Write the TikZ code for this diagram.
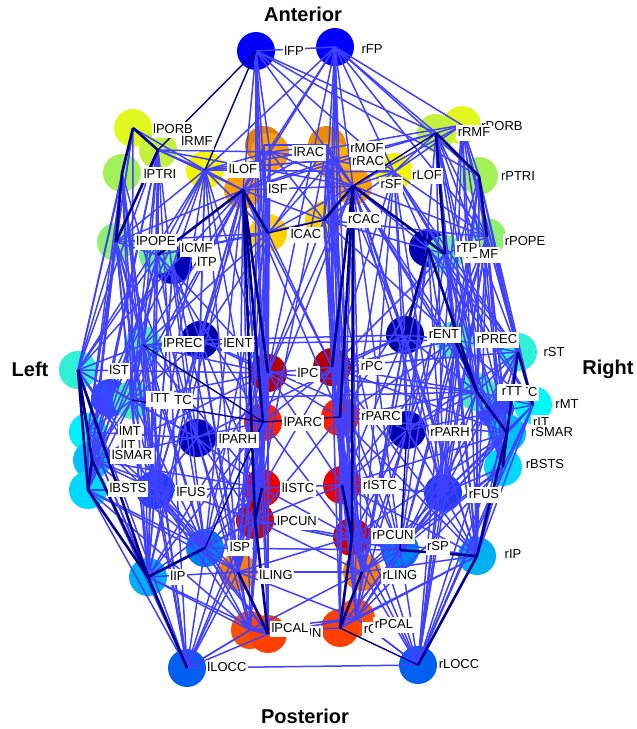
\documentclass[tikz,border=0pt]{standalone}
\usepackage{fontspec}
\setmainfont{Liberation Sans}
\definecolor{eb}{HTML}{4040FF}
\definecolor{en}{HTML}{00008C}
\newcommand\myreg[4]{\definecolor{c#1}{HTML}{#4}\node[rc,fill=c#1] (#1) at (#2,#3) {};}
\newcommand\mylab[3]{\node[lb] (L#1) at (#2,#3) {#1};}
\newcommand\myconn[2]{\foreach \tg in {#2}{\draw[edgeb] (#1.center) -- (\tg.center);}}
\newcommand\mystrong[2]{\foreach \tg in {#2}{\draw[edgen] (#1.center) -- (\tg.center);}}
\newcommand\mythin[2]{\foreach \tg in {#2}{\draw[edget] (#1.center) -- (\tg.center);}}
\begin{document}
\begin{tikzpicture}[x=1pt,y=-1pt,
 rc/.style={circle,minimum size=38pt,inner sep=0pt,draw=none},
 lb/.style={fill=white,inner sep=1.6pt,font=\fontsize{13}{14}\selectfont,text height=9.5pt,text depth=2.5pt},
 edgeb/.style={draw=eb,line width=1.5pt},
 edgen/.style={draw=en,line width=2.6pt},
 edget/.style={draw=en,line width=1.4pt},
 ttl/.style={font=\bfseries\fontsize{20}{22}\selectfont}]
\useasboundingbox (0,0) rectangle (637,729);
% ---------------- regions (circles) ----------------
\myreg{lFP}{256}{51}{0000FF}
\myreg{rFP}{335}{47}{0000FF}
\myreg{lPORB}{133}{128}{E0F820}
\myreg{lRMF}{158}{150}{C4F040}
\myreg{lPTRI}{122}{173}{A4F058}
\myreg{rPORB}{462}{125}{E0F820}
\myreg{rRMF}{436}{133}{C4F040}
\myreg{rPTRI}{479}{176}{A4F058}
\myreg{lLOF}{205}{170}{F5F500}
\myreg{rLOF}{394}{172}{F5F500}
\myreg{lMOF}{264}{145}{E88000}
\myreg{lRAC}{270}{152}{FFA000}
\myreg{rMOF}{327}{145}{F08C00}
\myreg{rRAC}{332}{160}{FFB000}
\myreg{lSF}{243}{190}{FFA000}
\myreg{rSF}{353}{186}{FFA000}
\myreg{lCAC}{268}{233}{FFD200}
\myreg{rCAC}{324}{220}{FFD200}
\myreg{lPOPE}{116}{242}{90F070}
\myreg{rPOPE}{487}{237}{90F070}
\myreg{lTP}{173}{265}{0000B4}
\myreg{rTP}{428}{248}{0000B4}
\myreg{lCMF}{158}{255}{70F090}
\myreg{rCMF}{445}{254}{70F090}
\myreg{lPREC}{143}{345}{50F0A8}
\myreg{rPREC}{455}{340}{50F0A8}
\myreg{lENT}{200}{340}{0000A0}
\myreg{rENT}{405}{335}{0000A0}
\myreg{lST}{78}{370}{30F0D8}
\myreg{rST}{518}{352}{30F0D8}
\myreg{lPSTC}{110}{398}{2850FF}
\myreg{rPSTC}{495}{408}{2850FF}
\myreg{lTTC}{132}{400}{40F0B4}
\myreg{rTTC}{477}{392}{40F0B4}
\myreg{lMT}{88}{432}{00F0FA}
\myreg{rMT}{533}{405}{00F8FA}
\myreg{lSMAR}{92}{460}{00C0FF}
\myreg{rSMAR}{507}{433}{00C0FF}
\myreg{lBSTS}{88}{490}{00D8FF}
\myreg{rBSTS}{503}{467}{00D8FF}
\myreg{lFUS}{155}{490}{1E3CFF}
\myreg{rFUS}{443}{493}{1E3CEE}
\myreg{lPARH}{197}{438}{0000B0}
\myreg{rPARH}{407}{430}{0000B0}
\myreg{lPC}{268}{373}{B40000}
\myreg{rPC}{332}{367}{B40000}
\myreg{lPARC}{263}{422}{FF2000}
\myreg{rPARC}{340}{417}{FF2000}
\myreg{lISTC}{262}{488}{F00000}
\myreg{rISTC}{342}{485}{F00000}
\myreg{lPCUN}{255}{520}{D00000}
\myreg{rPCUN}{352}{537}{D00000}
\myreg{lSP}{205}{548}{0080F0}
\myreg{rSP}{400}{550}{0080F0}
\myreg{lIP}{148}{577}{00B0F0}
\myreg{rIP}{477}{556}{00B0F0}
\myreg{lLING}{238}{572}{FF8000}
\myreg{rLING}{362}{572}{FF8000}
\myreg{lPCAL}{250}{630}{FF5000}
\myreg{lCUN}{268}{634}{FF4000}
\myreg{rPCAL}{356}{618}{FF5000}
\myreg{rCUN}{340}{628}{FF4000}
\myreg{lLOCC}{187}{668}{0060F0}
\myreg{rLOCC}{418}{665}{0060F0}
% ---------------- connections ----------------
\myconn{lFP}{rFP,lSF,lPC,lPARC,lPCUN,lISTC,rSF,rLOF,rRMF,lCAC,rPTRI,lRAC}
\myconn{rFP}{rPORB,rRMF,rSF,rLOF,rPTRI,rPC,rPARC,rPCUN,rISTC,lSF,lRAC,lLOF,rPOPE,rCAC,rRAC,lPC}
\myconn{lPORB}{lPOPE,lST,lMT,lLOF,lTTC}
\myconn{rPORB}{rRMF,rPTRI,rPOPE,rST,rMT,rSMAR,rPREC,rTTC,rIP,rLOCC,rLOF,rSF,lLOF}
\myconn{lRMF}{lLOF,lSF,lRAC,lCMF,lPREC,lSMAR,lIP,lBSTS,lFUS,lSP,rSF,lTTC,lST,lLOCC}
\myconn{rRMF}{rPOPE,rLOF,rRAC,rPREC,rSMAR,rIP,rBSTS,rFUS,rSP,lSF,rTTC,rST}
\myconn{lPTRI}{lST,lMT,lBSTS,lSMAR,lIP,lTTC,lPREC,lLOCC,lFUS,lPARH}
\myconn{rPTRI}{rST,rMT,rBSTS,rSMAR,rIP,rTTC,rPREC,rLOCC,rFUS,rPARH}
\myconn{lLOF}{lSF,lRAC,lCAC,lTP,lENT,lPARH,lFUS,lST,lMT,lPOPE,lCMF,rLOF,rRAC,lPC,lLING,lISTC}
\myconn{rLOF}{rSF,rRAC,rCAC,rTP,rENT,rPARH,rFUS,rST,rMT,rPOPE,rCMF,rPC,rLING,rISTC}
\myconn{lRAC}{lSF,lCAC,rRAC,rSF,lPC,lISTC,lPCUN,rMOF,lLING,rCAC,lPARC}
\myconn{rRAC}{rSF,rCAC,lSF,rPC,rISTC,rPCUN,rMOF,rLING,lCAC,rPARC,lLOF}
\myconn{rMOF}{rSF,lSF,rCAC,rPC,rISTC,rLING,lPCUN,rENT,lENT,lMOF}
\myconn{lMOF}{lSF,lCAC,lPC,lISTC,lENT,lLING}
\myconn{lSF}{rSF,lISTC,lPREC,lSP,lIP,lSMAR,lTTC,rPC,rPARC,lPOPE,lLING,lPCAL,lFUS,rCAC,lENT,lTP}
\myconn{rSF}{rISTC,rPREC,rSP,rIP,rSMAR,rTTC,lPC,lPARC,rPOPE,rLING,rPCAL,rFUS,lCAC,rENT,rTP}
\myconn{lCAC}{lPC,lISTC,lPCUN,lPARC,lPREC,lCMF,lSP,lLING,rPC,lPOPE}
\myconn{rCAC}{rPC,rISTC,rPCUN,rPARC,rPREC,rCMF,rSP,rLING,lPC,rPOPE,lCMF}
\myconn{lPOPE}{lCMF,lPREC,lST,lTTC,lSMAR,lMT,lIP,lBSTS,lSP,lPARH,lFUS,lLOCC}
\myconn{rPOPE}{rCMF,rPREC,rST,rTTC,rSMAR,rMT,rIP,rBSTS,rSP,rPARH,rFUS,rLOCC}
\myconn{lCMF}{lPREC,lTTC,lSMAR,lSP,lIP,lPARC,lPC,lST,lBSTS}
\myconn{rCMF}{rPREC,rTTC,rSMAR,rSP,rIP,rPARC,rPC,rST,rBSTS}
\myconn{lTP}{lENT,lPARH,lFUS,lST,lMT,lLING,lIP}
\myconn{rTP}{rPARH,rFUS,rST,rMT,rLING,rIP}
\myconn{lPREC}{lST,lTTC,lSMAR,lPC,lSP,lIP,lMT,lBSTS,lENT,rPREC,lFUS,lLOCC,lISTC}
\myconn{rPREC}{rST,rSMAR,rPC,rPARC,rSP,rIP,rMT,rBSTS,rENT,rFUS,rLOCC,rISTC}
\myconn{lENT}{lPARH,lFUS,lLING,lPCAL,lIP,rENT,lTTC,lPC,lISTC,rPARH}
\myconn{rENT}{rPARH,rFUS,rLING,rPCAL,rIP,rTTC,rPC,rISTC,lPARH}
\myconn{lST}{lTTC,lSP,lFUS,lLOCC,lPARH,lPC}
\myconn{rST}{rTTC,rBSTS,rIP,rSP,rFUS,rLOCC,rPARH,rPC}
\myconn{lTTC}{lSMAR,lMT,lBSTS,lPC,lIP,lSP,lFUS,rTTC,lPARH}
\myconn{rTTC}{rMT,rBSTS,rPARC,rPC,rIP,rSP,rFUS,rPARH,lPC}
\myconn{lMT}{lBSTS,lIP,lFUS,lLOCC,lSP,lPARH}
\myconn{rMT}{rSMAR,rBSTS,rIP,rFUS,rLOCC,rSP,rPARH}
\myconn{lSMAR}{lSP,lFUS,lLOCC,lPARC,lPC,lPCUN,lISTC}
\myconn{rSMAR}{rSP,rFUS,rLOCC,rPARC,rPC,rPCUN,rISTC}
\myconn{lBSTS}{lFUS,lLOCC,lSP,lLING,lPCAL}
\myconn{rBSTS}{rIP,rFUS,rLOCC,rSP,rLING,rPCAL}
\myconn{lFUS}{lPARH,lLING,lLOCC,lIP,lSP,lPCAL,lCUN,lISTC}
\myconn{rFUS}{rPARH,rLING,rLOCC,rIP,rSP,rPCAL,rCUN,rISTC}
\myconn{lPARH}{lLING,lISTC,lPCUN,lPCAL}
\myconn{rPARH}{rLING,rISTC,rPCUN,rPCAL}
\myconn{lPC}{rPC,lPARC,lISTC,lPCUN,lSP,lIP,lLING,lPCAL,rPARC,lCUN,rISTC}
\myconn{rPC}{rPARC,rISTC,rPCUN,rSP,rIP,rLING,rPCAL,lPARC,rCUN,lISTC}
\myconn{lPARC}{lISTC,lPCUN,lIP,lLING,lCUN,lPCAL,rPCUN,lLOCC}
\myconn{rPARC}{rISTC,rPCUN,rSP,rIP,rLING,rCUN,rPCAL,lPCUN,rLOCC}
\myconn{lISTC}{rISTC,lLING,lPCAL,lCUN,lSP,lIP,lLOCC,rPCUN}
\myconn{rISTC}{rLING,rPCAL,rCUN,rSP,rIP,rLOCC,lPCUN}
\myconn{lPCUN}{rPCUN,lSP,lIP,lLING,lPCAL,lLOCC,rLING,rSP}
\myconn{rPCUN}{rSP,rIP,rLING,rPCAL,rLOCC,lLING}
\myconn{lSP}{lLOCC,lLING,lPCAL,lCUN,rSP}
\myconn{rSP}{rLOCC,rLING,rPCAL,rCUN,lPCUN}
\myconn{lIP}{lLING,lPCAL,lCUN}
\myconn{rIP}{rLING,rPCAL,rCUN}
\myconn{lLING}{lPCAL,lLOCC,rLING,rPCAL}
\myconn{rLING}{rPCAL,rLOCC,lPCAL}
\myconn{lPCAL}{lCUN,lLOCC,rPCAL,rCUN}
\myconn{rPCAL}{rCUN,rLOCC,lCUN}
\myconn{lLOCC}{rLOCC,lCUN,lPCAL}
\myconn{rLOCC}{rPCAL}
% strong connections
\mythin{lFP}{lRMF,lLOF}
\mythin{rPARH}{rSP}
\mythin{lPREC}{lPARC}
\mythin{lPARC}{rPARC,lSP}
\mythin{lTTC}{lPARC}
\mystrong{lPORB}{lPTRI,lRMF}
\mystrong{lRMF}{lPOPE}
\mystrong{lPTRI}{lPOPE}
\mystrong{rRMF}{rPTRI,rCMF}
\mythin{rRMF}{rSF}
\mystrong{rPTRI}{rPOPE}
\mystrong{lSF}{lCMF,lPC,lPARC,lPCUN,lCAC}
\mystrong{rSF}{rCMF,rPC,rPARC,rPCUN,rCAC}
\mythin{lCAC}{rCAC}
\mystrong{rTP}{rENT,rTTC}
\mystrong{lST}{lMT,lSMAR,lBSTS,lIP}
\mystrong{rST}{rMT,rSMAR}
\mystrong{rPREC}{rTTC}
\mystrong{rTTC}{rSMAR}
\mystrong{lSMAR}{lBSTS,lIP}
\mystrong{rSMAR}{rBSTS,rIP}
\mystrong{lBSTS}{lIP}
\mystrong{lISTC}{lPCUN}
\mystrong{rISTC}{rPCUN}
\mystrong{lSP}{lIP}
\mystrong{rSP}{rIP}
\mystrong{lIP}{lLOCC}
\mystrong{rIP}{rLOCC}
\mystrong{lLING}{lCUN}
\mystrong{lPCUN}{lCUN}
\mystrong{rLING}{rCUN}
\mystrong{rPCUN}{rCUN}
\mythin{rLOCC}{rCUN}
% ---------------- labels ----------------
\mylab{lFP}{294}{52}
\mylab{rFP}{372}{50}
\mylab{lPORB}{173}{130}
\mylab{lRMF}{197}{142}
\mylab{lPTRI}{160}{175}
\mylab{lLOF}{243}{170}
\mylab{lSF}{278}{190}
\mylab{lRAC}{309}{153}
\mylab{rMOF}{367}{149}
\mylab{rRAC}{368}{162}
\mylab{rSF}{391}{185}
\mylab{rLOF}{427}{176}
\mylab{rPORB}{502}{127}
\mylab{rRMF}{474}{133}
\mylab{rPTRI}{518}{177}
\mylab{lCAC}{306}{235}
\mylab{rCAC}{364}{220}
\mylab{lPOPE}{156}{242}
\mylab{lCMF}{197}{249}
\mylab{lTP}{207}{263}
\mylab{rPOPE}{525}{242}
\mylab{rCMF}{482}{255}
\mylab{rTP}{467}{249}
\mylab{lPREC}{183}{344}
\mylab{lENT}{238}{344}
\mylab{rENT}{444}{335}
\mylab{rPREC}{497}{340}
\mylab{lST}{119}{371}
\mylab{rST}{554}{353}
\node[lb] (LlPSTC) at (173,401) {lPSTC};
\node[lb,inner xsep=5pt] (LlTT) at (160,399) {lTT};
\node[lb] (LrPSTC) at (518,393) {rPSTC};
\node[lb,inner xsep=3.5pt] (LrTT) at (512,392) {rTT};
\mylab{lMT}{130}{432}
\mylab{lIT}{128}{446}
\mylab{lSMAR}{132}{456}
\mylab{lBSTS}{128}{489}
\mylab{lFUS}{191}{493}
\mylab{lPARH}{238}{440}
\mylab{rMT}{567}{405}
\mylab{rIT}{541}{423}
\mylab{rSMAR}{552}{433}
\mylab{rBSTS}{545}{465}
\mylab{rFUS}{484}{495}
\mylab{rPARH}{450}{433}
\mylab{lPC}{308}{374}
\mylab{rPC}{372}{367}
\mylab{lPARC}{303}{423}
\mylab{rPARC}{381}{417}
\mylab{lISTC}{298}{489}
\mylab{rISTC}{380}{486}
\mylab{lPCUN}{297}{522}
\mylab{rPCUN}{393}{536}
\mylab{lSP}{240}{548}
\mylab{rSP}{438}{547}
\mylab{lIP}{178}{577}
\mylab{rIP}{513}{555}
\mylab{lLING}{276}{576}
\mylab{rLING}{400}{576}
\mylab{lCUN}{306}{634}
\mylab{lPCAL}{290}{629}
\mylab{rCUN}{380}{630}
\mylab{rPCAL}{394}{625}
\mylab{lLOCC}{227}{668}
\mylab{rLOCC}{459}{665}
% ---------------- orientation titles ----------------
\node[ttl] (tA) at (303,14) {Anterior};
\node[ttl] (tL) at (30,369) {Left};
\node[ttl] (tR) at (608,369) {Right};
\node[ttl] (tP) at (305,716) {Posterior};
\end{tikzpicture}
\end{document}
